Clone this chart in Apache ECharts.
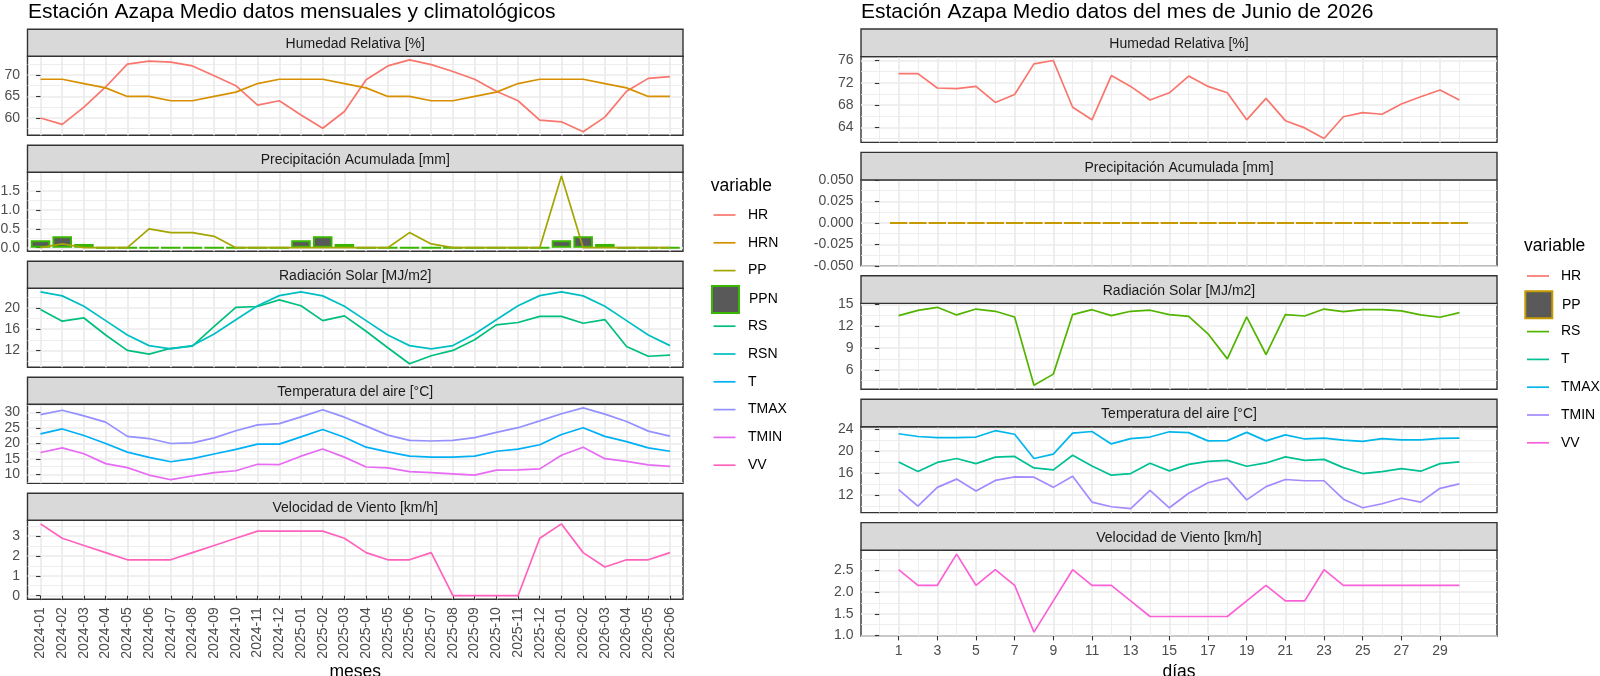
<!DOCTYPE html>
<html><head><meta charset="utf-8">
<script src="https://cdn.jsdelivr.net/npm/echarts@6/dist/echarts.min.js"></script>
<style>html,body{margin:0;padding:0;background:#fff}#chart{width:1600px;height:676px}</style>
</head><body><div id="chart"></div>
<script>
// ---------------- DATA ----------------
const months = ['2024-01','2024-02','2024-03','2024-04','2024-05','2024-06','2024-07','2024-08','2024-09','2024-10','2024-11','2024-12',
  '2025-01','2025-02','2025-03','2025-04','2025-05','2025-06','2025-07','2025-08','2025-09','2025-10','2025-11','2025-12',
  '2026-01','2026-02','2026-03','2026-04','2026-05','2026-06'];
const days = [1,2,3,4,5,6,7,8,9,10,11,12,13,14,15,16,17,18,19,20,21,22,23,24,25,26,27,28,29,30];

// monthly (left)
const HR_m   = [60.0,58.5,62.5,67.2,72.5,73.2,73.0,72.1,69.8,67.5,63.0,64.0,60.7,57.6,61.5,68.9,72.1,73.5,72.4,70.8,69.0,66.2,64.0,59.5,59.1,56.8,60.2,66.2,69.2,69.6];
const HRN_m  = [69,69,68,67,65,65,64,64,65,66,68,69,69,69,68,67,65,65,64,64,65,66,68,69,69,69,68,67,65,65];
const PP_m   = [0,0.1,0,0,0,0.5,0.4,0.4,0.3,0,0,0,0,0,0,0,0,0.4,0.1,0,0,0,0,0,1.9,0,0,0,0,0];
const PPN_m  = [0.2,0.3,0.1,0,0,0,0,0,0,0,0,0,0.2,0.3,0.1,0,0,0,0,0,0,0,0,0,0.2,0.3,0.1,0,0,0];
const RS_m   = [19.7,17.5,18.1,14.9,12.0,11.3,12.4,12.8,16.5,20.1,20.25,21.5,20.4,17.6,18.5,15.6,12.5,9.5,11.0,12.0,14.0,16.8,17.25,18.4,18.4,17.1,17.8,12.75,10.9,11.1];
const RSN_m  = [23.0,22.25,20.3,17.6,14.9,12.9,12.3,12.9,15.1,17.75,20.4,22.3,23.0,22.25,20.3,17.6,14.9,12.9,12.3,12.9,15.1,17.75,20.4,22.3,23.0,22.25,20.3,17.6,14.9,12.9];
const T_m    = [23.1,24.7,22.6,20.0,17.2,15.5,14.1,15.1,16.6,18.1,19.8,19.8,22.15,24.5,22.0,18.8,17.3,15.9,15.6,15.6,15.9,17.5,18.2,19.6,22.9,25.1,22.3,20.6,18.6,17.5];
const TMAX_m = [29.35,30.75,28.9,26.9,22.3,21.6,20.0,20.2,21.8,24.1,26.0,26.4,28.6,30.9,28.5,25.6,22.7,21.0,20.8,21.0,21.9,23.6,25.1,27.3,29.6,31.5,29.5,27.1,24.0,22.4];
const TMIN_m = [17.1,18.6,16.7,13.5,12.2,9.8,8.3,9.5,10.6,11.2,13.3,13.2,15.9,18.2,15.6,12.4,12.1,10.9,10.6,10.2,9.8,11.4,11.5,11.8,16.2,18.8,15.1,14.2,13.1,12.6];
const VV_m   = [3.6,2.88,2.52,2.16,1.8,1.8,1.8,2.16,2.52,2.88,3.24,3.24,3.24,3.24,2.88,2.16,1.8,1.8,2.16,0,0,0,0,2.88,3.6,2.16,1.44,1.8,1.8,2.16];

// daily (right)
const HR_d   = [73.65,73.65,71.06,70.94,71.35,68.47,69.9,75.4,76.0,67.6,65.35,73.3,71.35,68.9,70.2,73.2,71.35,70.2,65.35,69.2,65.2,63.9,62.0,65.9,66.65,66.35,68.2,69.5,70.7,68.9];
const PP_d   = [0,0,0,0,0,0,0,0,0,0,0,0,0,0,0,0,0,0,0,0,0,0,0,0,0,0,0,0,0,0];
const RS_d   = [13.45,14.18,14.6,13.55,14.36,14.05,13.27,3.86,5.4,13.6,14.27,13.45,14.05,14.2,13.6,13.36,10.95,7.5,13.27,8.1,13.6,13.4,14.36,14.0,14.27,14.27,14.1,13.55,13.23,13.86];
const T_d    = [17.97,16.24,17.9,18.6,17.67,18.86,18.98,16.9,16.54,19.2,17.25,15.58,15.88,17.73,16.36,17.55,18.1,18.27,17.2,17.8,18.9,18.27,18.45,16.95,15.88,16.24,16.78,16.3,17.67,18.0];
const TMAX_d = [23.1,22.6,22.4,22.4,22.5,23.65,23.0,18.6,19.4,23.2,23.5,21.25,22.2,22.5,23.45,23.3,21.8,21.85,23.35,21.8,22.9,22.15,22.3,21.95,21.7,22.2,22.0,22.0,22.25,22.3];
const TMIN_d = [12.95,9.95,13.37,14.87,12.72,14.63,15.28,15.22,13.37,15.4,10.7,9.85,9.5,12.84,9.67,12.3,14.2,15.04,11.1,13.5,14.8,14.57,14.57,11.22,9.67,10.4,11.4,10.7,13.2,14.0];
const VV_d   = [2.52,2.16,2.16,2.88,2.16,2.52,2.16,1.08,1.8,2.52,2.16,2.16,1.8,1.44,1.44,1.44,1.44,1.44,1.8,2.16,1.8,1.8,2.52,2.16,2.16,2.16,2.16,2.16,2.16,2.16];

// tick values
const xTicksDays  = [1,3,5,7,9,11,13,15,17,19,21,23,25,27,29];
const xMinorDays  = [0,2,4,6,8,10,12,14,16,18,20,22,24,26,28,30];
const yTicksM_HR = [60,65,70],        yMinorM_HR = [57.5,62.5,67.5,72.5];
const yTicksM_PP = [0,0.5,1,1.5],     yMinorM_PP = [0.25,0.75,1.25,1.75];
const yTicksM_RS = [12,16,20],        yMinorM_RS = [10,14,18,22];
const yTicksM_T  = [10,15,20,25,30],  yMinorM_T  = [7.5,12.5,17.5,22.5,27.5,32.5];
const yTicksM_VV = [0,1,2,3],         yMinorM_VV = [0.5,1.5,2.5,3.5];
const yTicksD_HR = [64,68,72,76],     yMinorD_HR = [62,66,70,74];
const yTicksD_PP = [-0.05,-0.025,0,0.025,0.05], yMinorD_PP = [-0.0375,-0.0125,0.0125,0.0375];
const yLimitsD_PP = [-0.05,0.05];
const yTicksD_RS = [6,9,12,15],       yMinorD_RS = [4.5,7.5,10.5,13.5];
const yTicksD_T  = [12,16,20,24],     yMinorD_T  = [10,14,18,22];
const yTicksD_VV = [1,1.5,2,2.5],     yMinorD_VV = [1.25,1.75,2.25,2.75];

const stripTitles = ['Humedad Relativa [%]','Precipitación Acumulada [mm]','Radiación Solar [MJ/m2]','Temperatura del aire [°C]','Velocidad de Viento [km/h]'];
const titleLeft  = 'Estación Azapa Medio datos mensuales y climatológicos';
const titleRight = 'Estación Azapa Medio datos del mes de Junio de 2026';

// ---------------- STYLE / LAYOUT ----------------
const FONT = '"Liberation Sans", Arial, Helvetica, sans-serif';
const cM = {HR:'#F8766D',HRN:'#D89000',PP:'#A3A500',PPN:'#39B600',RS:'#00BF7D',RSN:'#00BFC4',T:'#00B0F6',TMAX:'#9590FF',TMIN:'#E76BF3',VV:'#FF62BC'};
const cD = {HR:'#F8766D',PP:'#C49A00',RS:'#53B400',T:'#00C094',TMAX:'#00B6EB',TMIN:'#A58AFF',VV:'#FB61D7'};
const LEFT  = {x0:27.5, x1:683,  top0:29.3, step:116,   stripH:27,   plotH:79};
const RIGHT = {x0:861,  x1:1497, top0:29,   step:123.4, stripH:27.6, plotH:85.8};

function expandRange(vals){let lo=Infinity,hi=-Infinity;vals.forEach(v=>{if(v<lo)lo=v;if(v>hi)hi=v;});const r=hi-lo;return [lo-0.05*r,hi+0.05*r];}

const monthIdx = months.map((m,i)=>i);
const leftPanels = [
  {lines:[['m_HR',HR_m,cM.HR],['m_HRN',HRN_m,cM.HRN]], bars:[], ticks:yTicksM_HR, minor:yMinorM_HR, dec:0},
  {lines:[['m_PP',PP_m,cM.PP]], bars:[['m_PPN',PPN_m,cM.PPN]], ticks:yTicksM_PP, minor:yMinorM_PP, dec:1},
  {lines:[['m_RS',RS_m,cM.RS],['m_RSN',RSN_m,cM.RSN]], bars:[], ticks:yTicksM_RS, minor:yMinorM_RS, dec:0},
  {lines:[['m_T',T_m,cM.T],['m_TMAX',TMAX_m,cM.TMAX],['m_TMIN',TMIN_m,cM.TMIN]], bars:[], ticks:yTicksM_T, minor:yMinorM_T, dec:0},
  {lines:[['m_VV',VV_m,cM.VV]], bars:[], ticks:yTicksM_VV, minor:yMinorM_VV, dec:0}
];
const rightPanels = [
  {lines:[['d_HR',HR_d,cD.HR]], bars:[], ticks:yTicksD_HR, minor:yMinorD_HR, dec:0},
  {lines:[], bars:[['d_PP',PP_d,cD.PP]], ticks:yTicksD_PP, minor:yMinorD_PP, dec:3, limits:yLimitsD_PP},
  {lines:[['d_RS',RS_d,cD.RS]], bars:[], ticks:yTicksD_RS, minor:yMinorD_RS, dec:0},
  {lines:[['d_T',T_d,cD.T],['d_TMAX',TMAX_d,cD.TMAX],['d_TMIN',TMIN_d,cD.TMIN]], bars:[], ticks:yTicksD_T, minor:yMinorD_T, dec:0},
  {lines:[['d_VV',VV_d,cD.VV]], bars:[], ticks:yTicksD_VV, minor:yMinorD_VV, dec:1}
];

const AXT = {fontSize:14, color:'#4D4D4D', fontFamily:FONT};
const grids=[], xAxes=[], yAxes=[], series=[], graphics=[], xMinorAxes=[], yMinorAxes=[];

function addSide(L, panels, xs, xRange, xTicks, xMinor, xFmt, rotate){
  panels.forEach((p,k)=>{
    const g = grids.length;
    const stripTop = L.top0 + k*L.step;
    const top = stripTop + L.stripH;
    const width = L.x1 - L.x0;
    grids.push({left:L.x0, top:top, width:width, height:L.plotH, show:true, borderColor:'#333333', borderWidth:1.4,
      backgroundColor:'#fff', containLabel:false, outerBoundsMode:'none'});
    const bottom = (k === panels.length-1);
    xAxes.push({type:'value', gridIndex:g, min:xRange[0], max:xRange[1], position:'bottom',
      axisLine:{show:false},
      axisTick:{show:bottom, customValues:xTicks, length:4.4, lineStyle:{color:'#333333', width:1.1}},
      axisLabel:{show:bottom, customValues:xTicks, formatter:xFmt, rotate:rotate, margin:8, ...AXT},
      splitLine:{show:true, customValues:xTicks, lineStyle:{color:'#EBEBEB', width:1.7}},
      minorTick:{show:false}, minorSplitLine:{show:false}});
    if (xMinor) xMinorAxes.push({type:'value', gridIndex:g, min:xRange[0], max:xRange[1], position:'top',
      axisLine:{show:false}, axisTick:{show:false, customValues:xMinor}, axisLabel:{show:false, customValues:xMinor},
      splitLine:{show:true, customValues:xMinor, lineStyle:{color:'#EBEBEB', width:0.85}}});
    let yr;
    if (p.limits) yr = p.limits.slice();
    else {
      let vals = [];
      p.lines.forEach(l=>{vals = vals.concat(l[1]);});
      p.bars.forEach(b=>{vals = vals.concat(b[1], [0]);});
      yr = expandRange(vals);
    }
    const dec = p.dec;
    yAxes.push({type:'value', gridIndex:g, min:yr[0], max:yr[1], position:'left',
      axisLine:{show:false},
      axisTick:{show:true, customValues:p.ticks, length:4.4, lineStyle:{color:'#333333', width:1.1}},
      axisLabel:{show:true, customValues:p.ticks, formatter:v=>Number(v).toFixed(dec), margin:7.5, ...AXT},
      splitLine:{show:true, customValues:p.ticks, lineStyle:{color:'#EBEBEB', width:1.7}},
      minorTick:{show:false}, minorSplitLine:{show:false}});
    yMinorAxes.push({type:'value', gridIndex:g, min:yr[0], max:yr[1], position:'right',
      axisLine:{show:false}, axisTick:{show:false, customValues:p.minor}, axisLabel:{show:false, customValues:p.minor},
      splitLine:{show:true, customValues:p.minor, lineStyle:{color:'#EBEBEB', width:0.85}}});
    const barW = 0.9 * width / (xRange[1]-xRange[0]);
    p.bars.forEach(b=>{
      series.push({type:'bar', name:b[0], xAxisIndex:g, yAxisIndex:g, barWidth:barW, barMinHeight:0.01,
        data: xs.map((x,i)=>[x, b[1][i]]), z:2, silent:true,
        itemStyle:{color:'#595959', borderColor:b[2], borderWidth:2}});
    });
    p.lines.forEach(l=>{
      series.push({type:'line', name:l[0], xAxisIndex:g, yAxisIndex:g, data: xs.map((x,i)=>[x, l[1][i]]),
        symbol:'none', showSymbol:false, z:3, silent:true, color:l[2],
        lineStyle:{color:l[2], width:1.7}, itemStyle:{color:l[2]}});
    });
    graphics.push({type:'rect', silent:true, z:5, shape:{x:L.x0, y:stripTop, width:width, height:L.stripH},
      style:{fill:'#D9D9D9', stroke:'#333333', lineWidth:1.4}});
    graphics.push({type:'text', silent:true, z:6, x:(L.x0+L.x1)/2, y:stripTop+L.stripH/2+1.5,
      style:{text:stripTitles[k], fontSize:14, fontFamily:FONT, fill:'#1A1A1A', align:'center', verticalAlign:'middle'}});
  });
}

addSide(LEFT, leftPanels, monthIdx, [-0.6, months.length-1+0.6], monthIdx, null, v=>months[Math.round(v)]||'', 90);
const rightXRange = expandRange([days[0]-0.45, days[days.length-1]+0.45]);
addSide(RIGHT, rightPanels, days, rightXRange, xTicksDays, xMinorDays, v=>String(v), 0);

xMinorAxes.forEach(a=>xAxes.push(a));
yMinorAxes.forEach(a=>yAxes.push(a));

// titles & axis names
graphics.push({type:'text', silent:true, x:28, y:12, style:{text:titleLeft, fontSize:21, fontFamily:FONT, fill:'#000', align:'left', verticalAlign:'middle'}});
graphics.push({type:'text', silent:true, x:861, y:12, style:{text:titleRight, fontSize:21, fontFamily:FONT, fill:'#000', align:'left', verticalAlign:'middle'}});
graphics.push({type:'text', silent:true, x:(LEFT.x0+LEFT.x1)/2, y:672, style:{text:'meses', fontSize:17.5, fontFamily:FONT, fill:'#000', align:'center', verticalAlign:'middle'}});
graphics.push({type:'text', silent:true, x:(RIGHT.x0+RIGHT.x1)/2, y:672, style:{text:'días', fontSize:17.5, fontFamily:FONT, fill:'#000', align:'center', verticalAlign:'middle'}});
graphics.push({type:'text', silent:true, x:710.7, y:186, style:{text:'variable', fontSize:17.5, fontFamily:FONT, fill:'#000', align:'left', verticalAlign:'middle'}});
graphics.push({type:'text', silent:true, x:1524, y:246, style:{text:'variable', fontSize:17.5, fontFamily:FONT, fill:'#000', align:'left', verticalAlign:'middle'}});

// legends
const ROW = 27.8, TXT_H = 14;
const lineIcon = 'path://M0,0H22V1.7H0Z';
function li(name,color){return {name:name, icon:lineIcon, itemStyle:{color:color, borderWidth:0}};}
function bi(name,border){return {name:name, icon:'rect', itemStyle:{color:'#595959', borderColor:border, borderWidth:2}};}
function mkLegend(items,left,top,w,h,pad){
  return {orient:'vertical', left:left, top:top, itemWidth:w, itemHeight:h, itemGap:ROW-TXT_H, padding:0, selectedMode:false,
    symbolKeepAspect:true, formatter:n=>n.slice(2),
    textStyle:{fontSize:14, lineHeight:TXT_H, color:'#000', fontFamily:FONT, padding:[0,0,0,pad]}, data:items};
}
const c0L = 215, c0R = 276;
const legends = [
  mkLegend([li('m_HR',cM.HR),li('m_HRN',cM.HRN),li('m_PP',cM.PP)], 713.5, c0L-TXT_H/2, 22, ROW, 7.5),
  mkLegend([bi('m_PPN',cM.PPN)], 711, c0L+3*ROW-13.5, 27, 27, 5),
  mkLegend([li('m_RS',cM.RS),li('m_RSN',cM.RSN),li('m_T',cM.T),li('m_TMAX',cM.TMAX),li('m_TMIN',cM.TMIN),li('m_VV',cM.VV)], 713.5, c0L+4*ROW-TXT_H/2, 22, ROW, 7.5),
  mkLegend([li('d_HR',cD.HR)], 1527, c0R-TXT_H/2, 22, ROW, 7),
  mkLegend([bi('d_PP',cD.PP)], 1524.3, c0R+ROW-13.5, 27, 27, 4.7),
  mkLegend([li('d_RS',cD.RS),li('d_T',cD.T),li('d_TMAX',cD.TMAX),li('d_TMIN',cD.TMIN),li('d_VV',cD.VV)], 1527, c0R+2*ROW-TXT_H/2, 22, ROW, 7)
];

const chart = echarts.init(document.getElementById('chart'), null, {renderer:'canvas', width:1600, height:676});
chart.setOption({
  animation:false,
  backgroundColor:'#ffffff',
  textStyle:{fontFamily:FONT},
  grid:grids, xAxis:xAxes, yAxis:yAxes, series:series, legend:legends,
  graphic:{elements:graphics}
});
</script>
</body></html>
